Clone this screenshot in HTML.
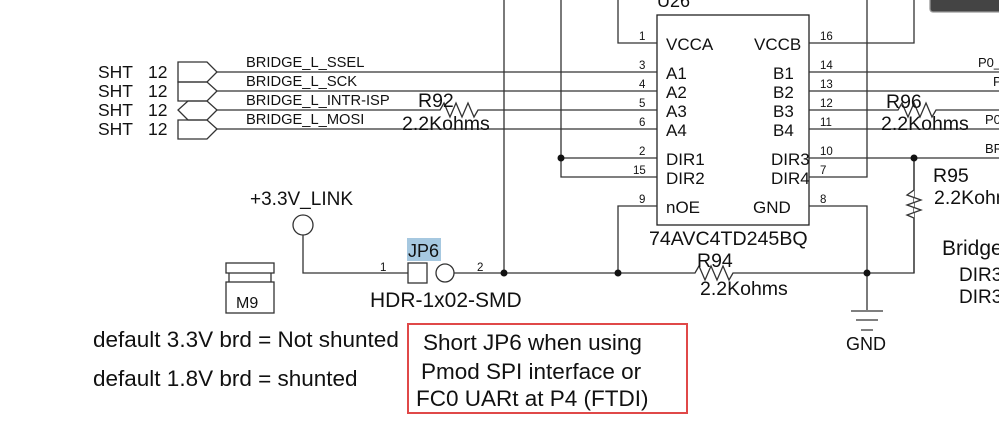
<!DOCTYPE html>
<html><head><style>
body{margin:0;background:#fff;width:999px;height:433px;overflow:hidden}
svg{display:block}
text{font-family:"Liberation Sans",sans-serif;fill:#111}
</style></head><body>
<svg width="999" height="433" viewBox="0 0 999 433" xmlns="http://www.w3.org/2000/svg">
<g stroke="#333" stroke-width="1.3" fill="none">
<rect x="930" y="-6" width="80" height="18" rx="3" fill="#444" stroke="#999"/>
<rect x="657" y="15" width="152" height="210" stroke="#222"/>
<path d="M618 0V43H657M809 43H914V0"/>
<path d="M867 0V177H809"/>
<path d="M217 72H657M217 91H657M217 129H657"/>
<path d="M217 110H410M485 110H657"/>
<polyline points="410,110 440,110 444,103 450,117 456,103 462,117 468,103 474,117 478,110 485,110"/>
<path d="M809 72H999M809 91H999M809 129H999"/>
<path d="M809 110H880M950 110H999"/>
<polyline points="880,110 898,110 902,103 908,117 914,103 920,117 926,103 932,117 936,110 950,110"/>
<path d="M809 158H999M561 0V177H657M561 158H657"/>
<path d="M504 0V273"/>
<path d="M657 206H618V273"/>
<path d="M809 206H867V310"/>
<path d="M303 235V273H408M454 273H676M750 273H914V158"/>
<polyline points="676,273 695,273 699,266 705,280 711,266 717,280 723,266 729,280 733,273 750,273"/>
<path d="M914 158V186M914 222V273" />
<polyline points="914,186 914,190 907,195 921,200 907,205 921,210 907,215 914,218 914,222" fill="#fff" stroke="#333"/>
<path d="M851 311H883M856 320H878M861 330H873"/>
<path d="M178 62H207L217 72L207 82H178Z"/>
<path d="M178 82H207L217 91L207 101H178Z"/>
<path d="M188 101H207L217 110L207 120H188L178 110Z"/>
<path d="M178 120H207L217 129L207 139H178Z"/>
<circle cx="303" cy="225" r="10"/>
<rect x="408" y="263" width="19" height="20"/>
<circle cx="445" cy="273" r="9"/>
<rect x="226" y="263" width="48" height="10"/>
<path d="M229 273V282M271 273V282"/>
<rect x="226" y="282" width="48" height="31"/>
</g>
<rect x="407" y="238" width="34" height="23" fill="#a6c8e0"/>
<rect x="408" y="324" width="279" height="89" fill="none" stroke="#e04848" stroke-width="2"/>
<g fill="#111">
<circle cx="561" cy="158" r="3.5"/><circle cx="504" cy="273" r="3.5"/>
<circle cx="618" cy="273" r="3.5"/><circle cx="867" cy="273" r="3.5"/>
<circle cx="914" cy="158" r="3.5"/>
</g>
<g font-size="17.5">
<text x="98" y="78">SHT</text><text x="148" y="78">12</text>
<text x="98" y="97">SHT</text><text x="148" y="97">12</text>
<text x="98" y="116">SHT</text><text x="148" y="116">12</text>
<text x="98" y="135">SHT</text><text x="148" y="135">12</text>
</g>
<g font-size="14.7">
<text x="246" y="67">BRIDGE_L_SSEL</text>
<text x="246" y="86">BRIDGE_L_SCK</text>
<text x="246" y="105">BRIDGE_L_INTR-ISP</text>
<text x="246" y="124">BRIDGE_L_MOSI</text>
</g>
<g font-size="13">
<text x="978" y="67">P0_</text>
<text x="993" y="86">P</text>
<text x="985" y="124">P0</text>
<text x="985" y="153">BR</text>
</g>
<g font-size="19.5">
<text x="418" y="107">R92</text>
<text x="402" y="130">2.2Kohms</text>
<text x="886" y="108">R96</text>
<text x="881" y="130">2.2Kohms</text>
<text x="933" y="182">R95</text>
<text x="934" y="204">2.2Kohms</text>
<text x="942" y="255" font-size="21">Bridge</text>
<text x="959" y="281" font-size="19">DIR3</text>
<text x="959" y="303" font-size="19">DIR3</text>
<text x="697" y="267">R94</text>
<text x="700" y="295">2.2Kohms</text>
<text x="649" y="245" font-size="19.6">74AVC4TD245BQ</text>
<text x="657" y="7" font-size="18">U26</text>
<text x="250" y="205" font-size="19">+3.3V_LINK</text>
<text x="408" y="257" font-size="18">JP6</text>
<text x="370" y="307" font-size="21">HDR-1x02-SMD</text>
<text x="236" y="308" font-size="16">M9</text>
<text x="846" y="350" font-size="18">GND</text>
</g>
<g font-size="17">
<text x="666" y="50">VCCA</text><text x="754" y="50">VCCB</text>
<text x="666" y="79">A1</text><text x="773" y="79">B1</text>
<text x="666" y="98">A2</text><text x="773" y="98">B2</text>
<text x="666" y="117">A3</text><text x="773" y="117">B3</text>
<text x="666" y="136">A4</text><text x="773" y="136">B4</text>
<text x="666" y="165">DIR1</text><text x="771" y="165">DIR3</text>
<text x="666" y="184">DIR2</text><text x="771" y="184">DIR4</text>
<text x="666" y="213">nOE</text><text x="753" y="213">GND</text>
</g>
<g font-size="11.5">
<text x="639" y="40">1</text><text x="639" y="69">3</text><text x="639" y="88">4</text>
<text x="639" y="107">5</text><text x="639" y="126">6</text><text x="639" y="155">2</text>
<text x="633" y="174">15</text><text x="639" y="203">9</text>
<text x="820" y="40">16</text><text x="820" y="69">14</text><text x="820" y="88">13</text>
<text x="820" y="107">12</text><text x="820" y="126">11</text><text x="820" y="155">10</text>
<text x="820" y="174">7</text><text x="820" y="203">8</text>
<text x="380" y="271">1</text><text x="477" y="271">2</text>
</g>
<g font-size="22.5">
<text x="93" y="347">default 3.3V brd = Not shunted</text>
<text x="93" y="386">default 1.8V brd = shunted</text>
<text x="423" y="350">Short JP6 when using</text>
<text x="421" y="379">Pmod SPI interface or</text>
<text x="416" y="406">FC0 UARt at P4 (FTDI)</text>
</g>
</svg>
</body></html>
